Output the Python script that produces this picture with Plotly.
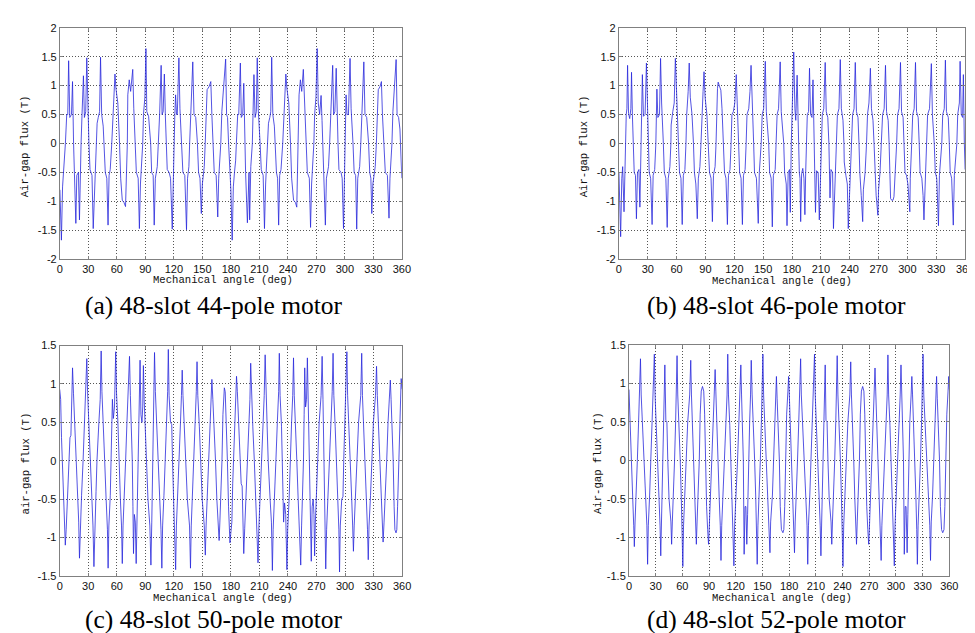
import plotly.graph_objects as go

# ---------------- data ----------------
ANGLE_TICKS = [0, 30, 60, 90, 120, 150, 180, 210, 240, 270, 300, 330, 360]
ANGLE_TICK_LABELS = ["0", "30", "60", "90", "120", "150", "180", "210", "240", "270", "300", "330", "360"]
FLUX_TICKS_AB = [-2, -1.5, -1, -0.5, 0, 0.5, 1, 1.5, 2]
FLUX_LABELS_AB = ["-2", "-1.5", "-1", "-0.5", "0", "0.5", "1", "1.5", "2"]
FLUX_TICKS_CD = [-1.5, -1, -0.5, 0, 0.5, 1, 1.5]
FLUX_LABELS_CD = ["-1.5", "-1", "-0.5", "0", "0.5", "1", "1.5"]

CAPTIONS = ["(a) 48-slot 44-pole motor", "(b) 48-slot 46-pole motor",
            "(c) 48-slot 50-pole motor", "(d) 48-slot 52-pole motor"]
Y_TITLES = ["Air-gap flux (T)", "Air-gap flux (T)", "air-gap flux (T)", "Air-gap flux (T)"]
X_TITLE = "Mechanical angle (deg)"

# (angle deg, flux T) samples
A_SAMPLES = [
    (0, -0.8), (1.6, -1.67), (2.8, -0.75), (3.8, -0.5), (5.0, -0.3), (5.8, 0), (7.2, 0.5), (8.3, 0.5), (9.2, 1.43),
    (10.4, 0.45), (12.2, 0.5), (13.3, 1.07), (14.4, 0),
    (15.3, -0.5), (16.8, -1.38), (17.8, -0.55), (19.5, -0.5), (20.6, -1.32), (21.5, -0.4), (22.3, 0),
    (23.3, 0.5), (24.8, 1.17), (25.8, 0.45), (27.2, 0.55), (28.3, 1.48), (29.3, 0.6), (30.6, 0),
    (31.7, -0.45), (33.8, -0.55), (35.1, -1.47), (36.5, -0.7), (38.2, 0),
    (39.2, 0.35), (40.4, 0.45), (41.8, 0.55), (42.8, 1.49), (44, 0.5), (45.6, 0.3), (46.6, 0),
    (47.8, -0.5), (49.4, -0.6), (50.7, -1.41), (51.8, -0.55), (53, -0.45), (54.6, 0),
    (56, 0.6), (58, 1.2), (59, 0.95), (61, 0.7), (62.8, 0),
    (64, -0.6), (65.7, -0.98), (67.5, -1.02), (69.1, -1.09), (70.2, -0.4), (71, 0),
    (71.5, 0.84), (73, 1.1), (74.5, 0.9), (76.7, 1.28), (77.8, 0.6), (79.3, 0),
    (80.5, -0.5), (82.4, -0.6), (83.7, -1.47), (84.8, -0.7), (86.5, -0.3), (87.2, 0),
    (88, 0.5), (89.5, 0.8), (90.6, 1.64), (91.5, 0.55), (93.4, 0.47), (95.6, 0),
    (96.6, -0.5), (98.2, -0.55), (99.3, -1.41), (100.5, -0.6), (102.5, -0.4), (103.8, 0),
    (105, 0.5), (106.6, 1.35), (107.6, 0.5), (108.7, 0.55), (110, 1.2), (111, 0.5), (112, 0),
    (113, -0.45), (115, -0.5), (116.5, -0.6), (118.3, -1.48), (119.3, -0.6), (120.2, 0),
    (121, 0.5), (121.8, 0.84), (122.8, 0.5), (123.6, 0.5), (125.3, 1.48), (126.4, 0.6), (128.4, 0),
    (129.5, -0.5), (131.5, -0.55), (133.3, -1.49), (134.4, -0.6), (135.8, -0.4), (136.6, 0),
    (137.8, 0.55), (139.9, 1.41), (141.2, 0.5), (143, 0.45), (144.8, 0),
    (146, -0.5), (147.5, -0.6), (148.9, -1.21), (150, -0.7), (152, -0.4), (153, 0),
    (154, 0.6), (155, 0.93), (157, 0.98), (158.9, 1.07), (160, 0.5), (161.2, 0),
    (162.5, -0.5), (164.5, -0.55), (166.2, -1.27), (167.2, -0.6), (169.4, 0),
    (170.5, 0.55), (172, 0.9), (174.5, 1.46), (175.5, 0.5), (176.5, 0.45), (177.6, 0),
    (179, -0.5), (180, -0.8), (181.4, -1.67), (182.6, -0.75), (183.8, -0.5), (185, -0.3), (185.8, 0),
    (187.2, 0.5), (188.3, 0.5), (190, 1.39), (191, 0.45), (192.5, 0.5), (193.6, 1.04), (194.4, 0),
    (195.5, -0.5), (197.4, -1.37), (198.4, -0.55), (199.1, -0.5), (199.8, -1.32), (201, -0.4), (202.6, 0),
    (203.4, 0.5), (204.3, 1.19), (205.5, 0.45), (206.8, 0.55), (207.8, 1.48), (208.8, 0.6), (210.8, 0),
    (212, -0.45), (214, -0.55), (215.4, -1.47), (216.6, -0.7), (218.6, 0),
    (219.6, 0.35), (221, 0.45), (222, 0.55), (223, 1.49), (224.2, 0.5), (225.8, 0.3), (226.8, 0),
    (228, -0.5), (229.2, -0.6), (230.3, -1.41), (231.4, -0.55), (232.8, -0.45), (234.6, 0),
    (236, 0.6), (237.9, 1.2), (239, 0.95), (241, 0.7), (242.8, 0),
    (244, -0.6), (246, -0.98), (248, -1.02), (249.4, -1.1), (250.4, -0.4), (251.2, 0),
    (251.8, 0.84), (253.2, 1.1), (254.6, 0.9), (256.3, 1.28), (257.6, 0.6), (259.2, 0),
    (260.5, -0.5), (262.6, -0.6), (263.9, -1.45), (265, -0.7), (266.6, -0.3), (267.4, 0),
    (268.2, 0.5), (269.6, 0.8), (270.9, 1.64), (272, 0.7), (273.5, 0.5), (275, 0.83), (276, 0.4), (276.8, 0),
    (277.8, -0.5), (279.5, -1.41), (280.6, -0.6), (282.8, -0.4), (284, 0),
    (285.2, 0.5), (287.2, 1.35), (288.2, 0.5), (289.5, 0.55), (290.9, 1.3), (291.8, 0.5), (292.8, 0),
    (293.8, -0.45), (296, -0.5), (297.2, -0.6), (298.6, -1.47), (299.6, -0.6), (300.6, 0),
    (301.3, 0.84), (302.3, 0.5), (303.8, 0.5), (305.5, 1.47), (306.6, 0.6), (308.6, 0),
    (309.8, -0.5), (311.4, -0.55), (312.5, -1.48), (313.6, -0.6), (315.6, -0.4), (316.8, 0),
    (318, 0.55), (320, 1.41), (321.2, 0.5), (323, 0.45), (325, 0),
    (326.2, -0.5), (327.4, -0.6), (328.4, -1.21), (329.5, -0.7), (332, -0.4), (333.2, 0),
    (334.2, 0.6), (335.2, 0.93), (337, 0.98), (338.5, 1.07), (339.6, 0.5), (341.4, 0),
    (342.6, -0.5), (344.8, -0.55), (346.5, -1.29), (347.5, -0.6), (349.6, 0),
    (350.6, 0.55), (352.2, 0.9), (354, 1.45), (355, 0.5), (356.6, 0.45), (358, 0.25), (359, -0.3), (360, -0.6),
]

B_SAMPLES = [
    (0, -0.5), (1.8, -1.61), (3.0, -0.6), (3.9, -0.4), (5.3, -1.18), (6.6, 0), (7.6, 0.5), (8.3, 0.6), (9.0, 1.35),
    (10.0, 0.52), (11.2, 0.43), (12.4, 0.6), (13.1, 1.23), (14.0, 0.5), (14.9, 0),
    (15.9, -0.5), (17.2, -0.55), (18.2, -1.3), (19.3, -0.5), (20.8, -0.45), (21.8, -1.1), (22.75, 0),
    (23.5, 0.45), (24.4, 1.19), (25.5, 0.47), (27.2, 0.5), (28.6, 1.39), (29.6, 0.6), (30.55, 0),
    (31.5, -0.5), (33, -0.6), (34.5, -1.4), (35.6, -0.55), (37.2, -0.45), (38.4, 0),
    (39.2, 0.5), (39.5, 0.94), (40.5, 0.45), (42.2, 0.5), (43.3, 1.47), (44.4, 0.7), (46.2, 0),
    (47.2, -0.5), (48.8, -0.6), (50.2, -1.45), (51.3, -0.6), (53, -0.4), (54.05, 0),
    (54.3, 0.32), (56, 0.55), (57.5, 0.7), (58.7, 1.47), (59.8, 0.9), (61.85, 0),
    (63, -0.5), (64.5, -0.6), (65.8, -1.4), (67, -0.55), (68.6, -0.45), (69.7, 0),
    (70.5, 0.5), (72, 0.9), (73.1, 1.39), (74.2, 0.8), (76, 0.5), (77.5, 0),
    (78.5, -0.5), (80, -0.7), (81.5, -1.3), (82.6, -0.6), (84.2, -0.4), (85.35, 0),
    (86.2, 0.5), (87.5, 0.9), (88.5, 1.24), (89.6, 0.8), (91.5, 0.5), (93.15, 0),
    (94.2, -0.5), (95.8, -0.6), (97.2, -1.35), (98.3, -0.55), (100, -0.4), (101, 0),
    (101.8, 0.6), (102.5, 0.95), (103.2, 1.06), (105, 0.98), (106, 0.92), (107.2, 0.6), (108.8, 0),
    (109.8, -0.5), (111.3, -0.6), (112.8, -1.4), (113.9, -0.55), (115.5, -0.45), (116.65, 0),
    (117.5, 0.5), (119, 0.55), (120.5, 0.7), (122, 1.19), (123, 0.6), (124.45, 0),
    (125.5, -0.5), (127, -0.6), (128.4, -1.4), (129.5, -0.55), (131.2, -0.45), (132.3, 0),
    (133.2, 0.5), (135, 0.6), (136.3, 0.9), (137.4, 1.35), (138.5, 0.6), (140.1, 0),
    (141, -0.5), (143, -0.6), (144.9, -1.38), (146, -0.5), (147.95, 0),
    (149, 0.5), (150.5, 0.6), (152.2, 1.42), (153.3, 0.55), (155.75, 0),
    (156.7, -0.5), (158.3, -0.6), (159.5, -1.44), (160.6, -0.55), (162.5, -0.45), (163.6, 0),
    (164.5, 0.5), (166, 0.6), (167.7, 1.41), (168.8, 0.55), (171.4, 0),
    (172.3, -0.5), (174, -0.7), (174.8, -1.42), (176, -0.5), (177.4, -0.45), (178.2, -1.19), (179.25, 0),
    (180, 0.5), (181.8, 1.58), (183, 0.6), (183.9, 0.4), (185.3, 1.18), (186.6, 0),
    (187.6, -0.5), (188.3, -0.6), (189, -1.35), (190, -0.52), (191.2, -0.43), (192.4, -0.6), (193.4, -1.23),
    (194.2, -0.5), (194.9, 0),
    (195.9, 0.5), (197.2, 0.55), (198.2, 1.3), (199.3, 0.5), (200.8, 0.45), (201.8, 1.1), (202.7, 0),
    (203.5, -0.45), (204.4, -1.19), (205.5, -0.47), (207.2, -0.5), (208.4, -1.32), (209.6, -0.6), (210.55, 0),
    (211.5, 0.5), (213, 0.6), (214.5, 1.4), (215.6, 0.55), (217.2, 0.45), (218.35, 0),
    (219.2, -0.5), (219.5, -0.94), (220.5, -0.45), (222.2, -0.5), (223.1, -1.47), (224.4, -0.7), (226.2, 0),
    (227.2, 0.5), (228.8, 0.6), (230.2, 1.45), (231.3, 0.6), (233, 0.4), (234, 0),
    (234.3, -0.32), (236, -0.55), (237.5, -0.7), (238.5, -1.47), (239.8, -0.9), (241.85, 0),
    (243, 0.5), (244.5, 0.6), (245.8, 1.4), (247, 0.55), (248.6, 0.45), (249.65, 0),
    (250.5, -0.5), (252, -0.9), (253.5, -1.35), (254.2, -0.8), (256, -0.5), (257.5, 0),
    (258.5, 0.5), (260, 0.7), (261.5, 1.3), (262.6, 0.6), (264.2, 0.4), (265.3, 0),
    (266.2, -0.5), (267.5, -0.9), (269.3, -1.24), (270, -0.8), (271.5, -0.5), (273.15, 0),
    (274.2, 0.5), (275.8, 0.6), (277.2, 1.35), (278.3, 0.55), (280, 0.4), (280.95, 0),
    (281.8, -0.6), (282.5, -0.95), (283.7, -0.98), (285, -0.98), (286, -0.92), (287.2, -0.6), (288.8, 0),
    (289.8, 0.5), (291.3, 0.6), (292.8, 1.4), (293.9, 0.55), (295.5, 0.45), (296.6, 0),
    (297.5, -0.5), (299, -0.55), (300.5, -0.7), (302.5, -1.18), (303, -0.6), (304.45, 0),
    (305.5, 0.5), (307, 0.6), (308.4, 1.4), (309.5, 0.55), (311.2, 0.45), (312.25, 0),
    (313.2, -0.5), (315, -0.6), (316.3, -0.9), (317.2, -1.32), (318.5, -0.6), (320.1, 0),
    (321, 0.5), (323, 0.6), (324.9, 1.38), (326, 0.5), (327.9, 0),
    (329, -0.5), (330.5, -0.6), (332.3, -1.42), (333.3, -0.55), (335.75, 0),
    (336.7, 0.5), (338.3, 0.6), (339.5, 1.44), (340.6, 0.55), (342.5, 0.45), (343.55, 0),
    (344.5, -0.5), (346, -0.6), (347.7, -1.41), (348.8, -0.55), (351.4, 0),
    (352.3, 0.5), (354, 0.7), (354.8, 1.42), (356, 0.5), (357.4, 0.45), (358.2, 1.19), (359.2, 0), (360, -0.45),
]

C_SAMPLES = [
    (0, 0.93), (1.0, 0.8), (1.9, 0.3), (2.8, 0), (4.2, -0.5), (5.2, -0.85), (5.9, -1.1), (6.8, -0.9), (8.2, -0.5),
    (9.6, 0), (10.8, 0.3), (11.8, 0.33), (12.8, 0.8), (13.5, 1.21), (14.5, 0.88), (16, 0.45), (17.3, 0),
    (18.8, -0.5), (20, -0.8), (20.8, -1.27), (21.6, -0.85), (23, -0.45), (24.6, 0), (26, 0.5), (27, 0.93),
    (28.5, 1.33), (29.3, 0.9), (30.7, 0.5), (32.2, 0), (33.6, -0.5), (35, -0.85), (36, -1.38), (36.8, -0.85),
    (38.2, -0.4), (39.2, 0), (39.8, 0.22), (41.2, 0.5), (42.6, 0.8), (43.6, 1.43), (44.4, 0.9), (46, 0.5),
    (47.3, 0), (48.8, -0.5), (50.2, -0.9), (50.9, -1.4), (51.7, -0.85), (53.2, -0.45), (54.2, 0), (55.4, 0.8),
    (56.4, 0.55), (57.6, 0.7), (58.9, 1.42), (59.7, 0.9), (61.2, 0.5), (62.3, 0), (63.8, -0.5), (65, -0.85),
    (65.8, -1.34), (66.6, -0.85), (68, -0.5), (69.3, 0), (70.7, 0.5), (72.3, 0.9), (73.4, 1.36), (74.3, 0.85),
    (75.4, 0.4), (76.3, 0), (77, -0.6), (77.6, -1.21), (78.5, -0.7), (79.5, -0.8), (80.4, -1.34), (81.3, -0.8),
    (82.6, 0), (83.5, 0.6), (84.5, 1.31), (85.4, 0.6), (86.5, 0.5), (87.3, 0.7), (88, 1.24), (88.8, 0.8),
    (90.2, 0.3), (91.3, 0), (92.8, -0.5), (94.8, -0.85), (95.9, -1.36), (96.8, -0.8), (98, 0), (98.8, 0.6),
    (99.7, 1.41), (100.6, 0.9), (102, 0.5), (103.6, 0), (105, -0.5), (106.5, -0.9), (107.4, -1.4), (108.2, -0.85),
    (109.6, -0.45), (111, 0), (112.5, 0.5), (113.5, 0.9), (114.2, 1.45), (115, 0.85), (116.5, 0.5), (117.8, 0.47),
    (118.6, 0), (120, -0.5), (121.2, -0.9), (121.9, -1.42), (122.7, -0.85), (124.2, -0.45), (125.6, 0),
    (127, 0.5), (128, 0.85), (128.8, 1.18), (129.6, 0.85), (131, 0.45), (132.6, 0), (134.2, -0.5),
    (136.5, -0.85), (137.5, -1.4), (138.3, -0.85), (139.6, -0.45), (141, 0), (142.5, 0.5), (143.6, 0.9),
    (144.4, 1.29), (145.2, 0.85), (146.8, 0.45), (148.3, 0), (149.8, -0.5), (152, -0.85), (153.1, -1.23),
    (153.9, -0.85), (155.3, -0.45), (156.6, 0), (158, 0.5), (159.2, 0.85), (160, 1.06), (161, 0.8),
    (162.4, 0.45), (163.8, 0), (165.2, -0.5), (166.8, -0.85), (167.6, -1.04), (168.4, -0.8), (169.8, -0.4),
    (170.6, 0), (171.6, 0.6), (172.4, 0.9), (173.1, 0.95), (174, 0.9), (175, 0.6), (176.3, 0), (177.5, -0.6),
    (179, -1.07), (180, -0.93), (181, -0.8), (181.9, -0.3), (182.8, 0), (184.2, 0.5), (185.2, 0.85),
    (185.9, 1.1), (186.8, 0.9), (188.2, 0.5), (189.6, 0), (190.8, -0.3), (191.8, -0.33), (192.8, -0.8),
    (193.5, -1.21), (194.5, -0.88), (196, -0.45), (197.3, 0), (198.8, 0.5), (200, 0.8), (200.8, 1.27),
    (201.6, 0.85), (203, 0.45), (204.6, 0), (206, -0.5), (207, -0.93), (208.5, -1.33), (209.3, -0.9),
    (210.7, -0.5), (212.2, 0), (213.6, 0.5), (215, 0.85), (216, 1.38), (216.8, 0.85), (218.2, 0.4),
    (219.2, 0), (219.8, -0.22), (221.2, -0.5), (222.6, -0.8), (223.6, -1.43), (224.4, -0.9), (226, -0.5),
    (227.3, 0), (228.8, 0.5), (230.2, 0.9), (230.9, 1.4), (231.7, 0.85), (233.2, 0.45), (234.2, 0),
    (235.4, -0.8), (236.4, -0.55), (237.6, -0.7), (238.9, -1.42), (239.7, -0.9), (241.2, -0.5), (242.3, 0),
    (243.8, 0.5), (245, 0.85), (245.8, 1.34), (246.6, 0.85), (248, 0.5), (249.3, 0), (250.7, -0.5),
    (252.3, -0.9), (253.4, -1.36), (254.3, -0.85), (255.6, -0.4), (256.3, 0), (257, 0.6), (257.6, 1.21),
    (258.5, 0.7), (259.5, 0.8), (260.4, 1.34), (261.3, 0.8), (262.6, 0), (263.5, -0.6), (264.5, -1.31),
    (265.4, -0.6), (266.5, -0.5), (267.3, -0.7), (268, -1.24), (268.8, -0.8), (270.2, -0.3), (271.3, 0),
    (272.8, 0.5), (274.8, 0.85), (275.9, 1.36), (276.8, 0.8), (278, 0), (278.8, -0.6), (279.7, -1.41),
    (280.6, -0.9), (282, -0.5), (283.6, 0), (285, 0.5), (286.5, 0.9), (287.4, 1.4), (288.2, 0.85),
    (289.6, 0.45), (291, 0), (292.5, -0.5), (293.5, -0.9), (294.2, -1.45), (295, -0.85), (296.5, -0.5),
    (297.8, -0.47), (298.6, 0), (300, 0.5), (301.2, 0.9), (301.9, 1.42), (302.7, 0.85), (304.2, 0.45),
    (305.6, 0), (307, -0.5), (308, -0.85), (308.8, -1.18), (309.6, -0.85), (311, -0.45), (312.6, 0),
    (314.2, 0.5), (316.5, 0.85), (317.5, 1.4), (318.3, 0.85), (319.6, 0.45), (321, 0), (322.5, -0.5),
    (323.6, -0.9), (324.4, -1.29), (325.2, -0.85), (326.8, -0.45), (328.3, 0), (329.8, 0.5), (332, 0.85),
    (333.1, 1.23), (333.9, 0.85), (335.3, 0.45), (336.6, 0), (338, -0.5), (339.2, -0.85), (340, -1.06),
    (341, -0.8), (342.4, -0.45), (343.8, 0), (345.2, 0.5), (346.8, 0.85), (347.6, 1.05), (348.4, 0.8),
    (349.8, 0.4), (350.6, 0), (351.6, -0.6), (352.4, -0.9), (353.6, -0.94), (354.4, -0.9), (355.2, -0.6),
    (356.3, 0), (357.5, 0.6), (359, 1.07), (360, 0.93),
]

D_SAMPLES = [
    (0, 0.92), (0.8, 0.6), (2.2, 0.3), (3.0, 0), (4.2, -0.5), (5.3, -0.85), (6.0, -1.12), (6.8, -0.8),
    (8.2, -0.45), (9.4, 0), (10.8, 0.5), (12.0, 0.85), (12.4, 1.15), (12.9, 1.32), (13.7, 0.85), (15.3, 0.45),
    (16.8, 0), (18.4, -0.5), (20.1, -0.85), (20.9, -1.35), (21.7, -0.85), (23.2, -0.45), (24.6, 0), (25.2, 0.33),
    (26.4, 0.6), (27.8, 0.9), (28.5, 1.38), (29.3, 0.85), (30.8, 0.45), (32.2, 0), (33.6, -0.5), (34.9, -0.85),
    (35.7, -1.24), (36.5, -0.8), (37.6, -0.4), (38.2, 0), (39.4, 0.7), (40.3, 1.24), (41.4, 0.52), (42.6, 0.5),
    (43.6, 0), (45, -0.5), (47.1, -0.8), (47.9, -1.09), (48.7, -0.8), (50, -0.45), (51.2, 0), (52.4, 0.5),
    (53.3, 0.9), (54, 1.36), (54.8, 0.85), (56.4, 0.45), (57.6, 0), (58.8, -0.5), (59.8, -0.9), (60.5, -1.38),
    (61.3, -0.85), (62.8, -0.45), (64.4, 0), (66, 0.5), (68.2, 0.85), (69.4, 1.3), (70.2, 0.85), (71.5, 0.45),
    (72.6, 0), (73.8, -0.5), (75, -0.85), (75.7, -1.09), (76.5, -0.8), (78, -0.4), (79, 0), (80, 0.6),
    (81.2, 0.9), (82.6, 0.96), (84, 0.9), (85, 0.6), (86, 0), (87.2, -0.6), (88.4, -0.9), (89.4, -1.09),
    (90.3, -0.85), (91.6, -0.45), (93, 0), (94.4, 0.5), (95.8, 0.85), (96.8, 1.18), (97.6, 0.9), (98.6, 0.45),
    (100, 0), (101.4, -0.5), (102.6, -0.85), (103.4, -1.3), (104.2, -0.85), (105.7, -0.45), (107.2, 0),
    (108.6, 0.5), (110.2, 0.85), (111, 1.38), (111.8, 0.85), (113.3, 0.45), (114.6, 0), (116, -0.5),
    (117.2, -0.85), (117.9, -1.37), (118.7, -0.85), (120.5, -0.45), (122, 0), (123.5, 0.5), (124.8, 0.85),
    (125.7, 1.24), (126.5, 0.85), (127.8, 0.45), (128.5, 0), (129.4, -1.22), (130.4, -0.6), (131.4, -0.6),
    (132.4, -1.09), (133.3, -0.7), (134.4, 0), (135.6, 0.5), (136.6, 0.85), (137.4, 1.3), (138.4, 0.85),
    (140, 0.45), (141.2, 0), (142.5, -0.5), (143.4, -0.9), (144.1, -1.35), (144.9, -0.85), (146.4, -0.45),
    (147.6, 0), (148.8, 0.5), (149.8, 0.9), (150.5, 1.38), (151.3, 0.85), (152.8, 0.45), (154.4, 0),
    (156, -0.5), (157.6, -0.85), (158.4, -1.2), (159.2, -0.8), (161.2, -0.45), (162.5, 0), (163.8, 0.5),
    (164.9, 0.85), (165.7, 1.09), (166.5, 0.8), (168, 0.4), (169, 0), (170, -0.6), (171.3, -0.9),
    (173.0, -0.94), (174, -0.9), (175, -0.6), (176, 0), (177.2, 0.6), (178.6, 0.9), (179.4, 1.09),
    (180, 0.92), (180.8, 0.6), (182.2, 0.3), (183, 0), (184.2, -0.5), (185.3, -0.85), (186, -1.2),
    (186.8, -0.8), (188.2, -0.45), (189.4, 0), (190.8, 0.5), (192, 0.85), (192.4, 1.15), (192.9, 1.32),
    (193.7, 0.85), (195.3, 0.45), (196.8, 0), (198.4, -0.5), (200.1, -0.85), (200.9, -1.35), (201.7, -0.85),
    (203.2, -0.45), (204.6, 0), (205.2, 0.33), (206.4, 0.6), (207.8, 0.9), (208.5, 1.38), (209.3, 0.85),
    (210.8, 0.45), (212.2, 0), (213.6, -0.5), (214.9, -0.85), (215.7, -1.24), (216.5, -0.8), (217.6, -0.4),
    (218.2, 0), (219.4, 0.7), (220.5, 1.24), (221.4, 0.52), (222.6, 0.5), (223.6, 0), (225, -0.5),
    (227.1, -0.8), (227.9, -1.09), (228.7, -0.8), (230, -0.45), (231.2, 0), (232.4, 0.5), (233.3, 0.9),
    (234, 1.36), (234.8, 0.85), (236.4, 0.45), (237.6, 0), (238.8, -0.5), (239.8, -0.9), (240.5, -1.38),
    (241.3, -0.85), (242.8, -0.45), (244.4, 0), (246, 0.5), (248.2, 0.85), (249.2, 1.28), (250, 0.85),
    (251.5, 0.45), (252.6, 0), (253.8, -0.5), (255, -0.85), (255.7, -1.09), (256.5, -0.8), (258, -0.4),
    (259, 0), (260, 0.6), (261.2, 0.9), (262.6, 0.96), (264, 0.9), (265, 0.6), (266, 0), (267.2, -0.6),
    (268.4, -0.9), (269.4, -1.09), (270.3, -0.85), (271.6, -0.45), (273, 0), (274.4, 0.5), (275.8, 0.85),
    (276.5, 1.2), (277.3, 0.9), (278.6, 0.45), (280, 0), (281.4, -0.5), (282.6, -0.85), (283.4, -1.3),
    (284.2, -0.85), (285.7, -0.45), (287.2, 0), (288.6, 0.5), (290.2, 0.85), (291, 1.37), (291.8, 0.85),
    (293.3, 0.45), (294.6, 0), (296, -0.5), (297.4, -0.85), (298.2, -1.37), (299, -0.85), (300.5, -0.45),
    (302, 0), (303.5, 0.5), (304.8, 0.85), (305.7, 1.24), (306.5, 0.85), (307.8, 0.45), (308.5, 0),
    (309.4, -1.22), (310.4, -0.6), (311.4, -0.6), (312.6, -1.2), (313.4, -0.7), (314.4, 0), (315.6, 0.5),
    (317.1, 0.85), (317.9, 1.09), (318.7, 0.85), (320, 0.45), (321.2, 0), (322.5, -0.5), (323.4, -0.9),
    (324.1, -1.35), (324.9, -0.85), (326.4, -0.45), (327.6, 0), (328.8, 0.5), (329.8, 0.9), (330.5, 1.38),
    (331.3, 0.85), (332.8, 0.45), (334.4, 0), (336, -0.5), (338.1, -0.85), (338.9, -1.3), (339.7, -0.8),
    (341.2, -0.45), (342.5, 0), (343.8, 0.5), (344.9, 0.85), (345.7, 1.09), (346.5, 0.8), (348, 0.4),
    (349, 0), (350, -0.6), (351.3, -0.9), (352.6, -0.94), (354, -0.9), (355, -0.6), (356, 0), (357.2, 0.6),
    (358.6, 0.9), (359.4, 1.09), (360, 0.92),
]

# ---------------- layout (pixel geometry of the 975 x 633 picture) ----------------
W, H = 975, 633
PANELS = [
    dict(samples=A_SAMPLES, box=(49.5, 395.7, 14, 250), yr=[-2, 2], yt=FLUX_TICKS_AB, yl=FLUX_LABELS_AB,
         ytitle_x=15, xtitle=(215, 271), cap=(206, 313)),
    dict(samples=B_SAMPLES, box=(615.5, 966, 14, 250), yr=[-2, 2], yt=FLUX_TICKS_AB, yl=FLUX_LABELS_AB,
         ytitle_x=581, xtitle=(781, 272), cap=(775, 313)),
    dict(samples=C_SAMPLES, box=(49.3, 396, 338, 572.7), yr=[-1.5, 1.5], yt=FLUX_TICKS_CD, yl=FLUX_LABELS_CD,
         ytitle_x=15, xtitle=(215, 595), cap=(206, 632.8)),
    dict(samples=D_SAMPLES, box=(625.7, 950, 337.3, 572.7), yr=[-1.5, 1.5], yt=FLUX_TICKS_CD, yl=FLUX_LABELS_CD,
         ytitle_x=595, xtitle=(781, 595), cap=(775, 632.8)),
]

def px(x):
    return x / W

def py(y):
    return 1 - y / H

fig = go.Figure()
layout = dict(
    width=W, height=H, margin=dict(l=0, r=0, t=0, b=0),
    paper_bgcolor="white", plot_bgcolor="white", showlegend=False,
)
annotations = []
TICK_FONT = dict(family="Liberation Sans, Arial, sans-serif", size=11, color="#111111")
MONO_FONT = dict(family="Liberation Mono, DejaVu Sans Mono, monospace", size=10.6, color="#111111")
CAP_FONT = dict(family="Liberation Serif, Times New Roman, serif", size=25.5, color="#000000")

for i, p in enumerate(PANELS):
    n = "" if i == 0 else str(i + 1)
    x0, x1, y0, y1 = p["box"]
    fig.add_trace(go.Scatter(
        x=[s[0] for s in p["samples"]], y=[s[1] for s in p["samples"]],
        mode="lines", line=dict(color="#2828dc", width=0.8),
        xaxis="x" + n, yaxis="y" + n, hoverinfo="skip",
    ))
    common = dict(
        showgrid=True, gridcolor="#555555", gridwidth=1, griddash="1px,2px",
        showline=True, linecolor="#808080", linewidth=1, mirror="ticks",
        ticks="inside", ticklen=3, tickcolor="#808080", tickfont=TICK_FONT,
        zeroline=False, fixedrange=True,
    )
    layout["xaxis" + n] = dict(
        domain=[px(x0), px(x1)], range=[0, 360], anchor="y" + n,
        tickmode="array", tickvals=ANGLE_TICKS, ticktext=ANGLE_TICK_LABELS, **common,
    )
    layout["yaxis" + n] = dict(
        domain=[py(y1), py(y0)], range=p["yr"], anchor="x" + n,
        tickmode="array", tickvals=p["yt"], ticktext=p["yl"], **common,
    )
    annotations.append(dict(
        text=Y_TITLES[i], textangle=-90, xref="paper", yref="paper",
        x=px(p["ytitle_x"]), y=py((y0 + y1) / 2 + 3), xanchor="center", yanchor="middle",
        showarrow=False, font=MONO_FONT,
    ))
    annotations.append(dict(
        text=X_TITLE, xref="paper", yref="paper",
        x=px(p["xtitle"][0]), y=py(p["xtitle"][1]), xanchor="center", yanchor="middle",
        showarrow=False, font=MONO_FONT, borderpad=0,
    ))
    annotations.append(dict(
        text=CAPTIONS[i], xref="paper", yref="paper",
        x=px(p["cap"][0]), y=py(p["cap"][1]), xanchor="center", yanchor="bottom",
        showarrow=False, font=CAP_FONT, borderpad=0,
    ))

layout["annotations"] = annotations
fig.update_layout(**layout)
fig.write_html("out.html")
